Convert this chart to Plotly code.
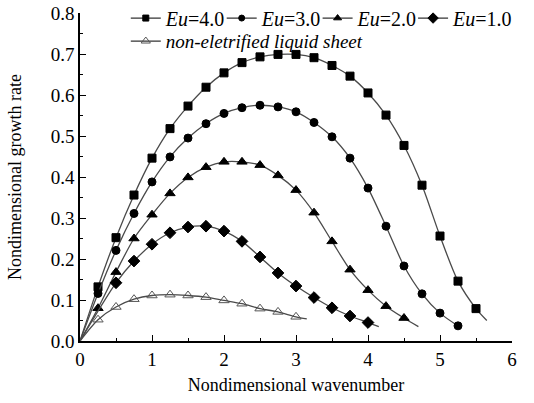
import plotly.graph_objects as go

# ---- data ----
k_markers = [0.25, 0.5, 0.75, 1.0, 1.25, 1.5, 1.75, 2.0, 2.25, 2.5, 2.75, 3.0,
             3.25, 3.5, 3.75, 4.0, 4.25, 4.5, 4.75, 5.0, 5.25, 5.5]

eu4 = [0.132, 0.252, 0.356, 0.446, 0.518, 0.573, 0.619, 0.654, 0.679, 0.693, 0.699, 0.699,
       0.691, 0.672, 0.646, 0.605, 0.551, 0.477, 0.380, 0.256, 0.146, 0.079]
eu4_end = (5.65, 0.050)

eu3 = [0.116, 0.221, 0.311, 0.388, 0.449, 0.495, 0.530, 0.555, 0.569, 0.575, 0.571, 0.559,
       0.533, 0.498, 0.446, 0.373, 0.280, 0.183, 0.115, 0.068, 0.037]
eu3_end = (5.27, 0.035)

eu2 = [0.080, 0.168, 0.250, 0.308, 0.360, 0.399, 0.424, 0.437, 0.437, 0.429, 0.404, 0.368,
       0.313, 0.243, 0.174, 0.124, 0.085, 0.056]
eu2_end = (4.70, 0.035)

eu1_k = [0.5, 0.75, 1.0, 1.25, 1.5, 1.75, 2.0, 2.25, 2.5, 2.75, 3.0, 3.25, 3.5, 3.75, 4.0]
eu1 = [0.142, 0.195, 0.236, 0.264, 0.278, 0.280, 0.268, 0.243, 0.205, 0.166, 0.134,
       0.106, 0.081, 0.061, 0.045]
eu1_end = (4.15, 0.035)

non = [0.052, 0.083, 0.102, 0.111, 0.113, 0.111, 0.107, 0.099, 0.091, 0.079, 0.071, 0.059]
non_end = (3.15, 0.054)

x_ticks = [0, 1, 2, 3, 4, 5, 6]
y_ticks = [0.0, 0.1, 0.2, 0.3, 0.4, 0.5, 0.6, 0.7, 0.8]

FONT = "Liberation Serif"
LINE_COL = "#4a4a4a"

series = [
    ("<i>Eu</i>=4.0", k_markers[:len(eu4)], eu4, eu4_end, "square", 8, 6, "black", "legend"),
    ("<i>Eu</i>=3.0", k_markers[:len(eu3)], eu3, eu3_end, "circle", 8, 6, "black", "legend2"),
    ("<i>Eu</i>=2.0", k_markers[:len(eu2)], eu2, eu2_end, "triangle-up", 9, 7, "black", "legend3"),
    ("<i>Eu</i>=1.0", eu1_k, eu1, eu1_end, "diamond", 9, 8, "black", "legend4"),
    ("<i>non-eletrified liquid sheet</i>", k_markers[:len(non)], non, non_end,
     "triangle-up-open", 9, 8, "#555555", "legend5"),
]

fig = go.Figure()
for name, kx, vy, end, sym, msz, lsz, mcol, leg in series:
    fig.add_trace(go.Scatter(
        x=[0.0] + list(kx) + [end[0]], y=[0.0] + list(vy) + [end[1]],
        mode="lines", line=dict(color=LINE_COL, width=1.3, shape="spline", smoothing=0.8),
        showlegend=False, hoverinfo="skip"))
    fig.add_trace(go.Scatter(
        x=kx, y=vy, mode="markers",
        marker=dict(symbol=sym, size=msz, color=mcol,
                    line=dict(color=mcol, width=1)),
        showlegend=False))
    fig.add_trace(go.Scatter(
        x=[None], y=[None], mode="lines+markers", name=name, legend=leg,
        line=dict(color="#333333", width=1.3),
        marker=dict(symbol=sym, size=lsz, color=mcol, line=dict(color=mcol, width=1))))

axis_common = dict(
    showline=True, linecolor="black", linewidth=1.5, mirror=False,
    ticks="inside", ticklen=6, tickwidth=1.3, tickcolor="black",
    showgrid=False, zeroline=False,
    tickfont=dict(family=FONT, size=19, color="black"),
)

fig.update_xaxes(range=[0, 6], tickvals=x_ticks, ticktext=[str(v) for v in x_ticks],
                 minor=dict(dtick=0.5, ticks="inside", ticklen=3, tickcolor="black", tickwidth=1.2),
                 title=dict(text="Nondimensional wavenumber", font=dict(family=FONT, size=18, color="black"),
                            standoff=10),
                 **axis_common)
fig.update_yaxes(range=[0, 0.8], tickvals=y_ticks, ticktext=[f"{v:.1f}" for v in y_ticks],
                 minor=dict(dtick=0.05, ticks="inside", ticklen=3, tickcolor="black", tickwidth=1.2),
                 title=dict(text="Nondimensional growth rate", font=dict(family=FONT, size=18, color="black"),
                            standoff=24),
                 **axis_common)

leg_common = dict(orientation="h", xanchor="left", yanchor="top", bgcolor="rgba(0,0,0,0)",
                  itemwidth=30, tracegroupgap=0)
row1_font = dict(family=FONT, size=20, color="black")
row1_y = 1.044
fig.update_layout(
    width=534, height=403,
    margin=dict(l=80, r=22, t=13, b=62, autoexpand=False),
    paper_bgcolor="white", plot_bgcolor="white",
    showlegend=True,
    legend=dict(x=0.106, y=row1_y, font=row1_font, **leg_common),
    legend2=dict(x=0.328, y=row1_y, font=row1_font, **leg_common),
    legend3=dict(x=0.550, y=row1_y, font=row1_font, **leg_common),
    legend4=dict(x=0.771, y=row1_y, font=row1_font, **leg_common),
    legend5=dict(x=0.106, y=0.972, font=dict(family=FONT, size=19, color="black"), **leg_common),
)

fig.write_html("out.html")
